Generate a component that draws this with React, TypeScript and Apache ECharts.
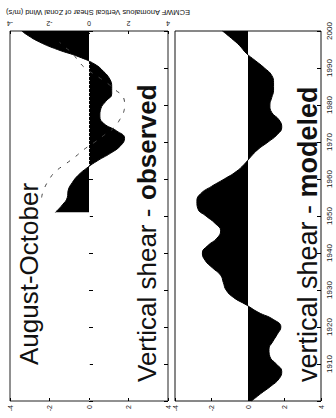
import React, { useEffect, useRef } from "react";
import * as echarts from "echarts";

// ---- data ----
const obsYears = [1951, 1953, 1955, 1957, 1959, 1961, 1963, 1965, 1967, 1969, 1971, 1973, 1975, 1977, 1979, 1981, 1983, 1985, 1987, 1989, 1991, 1993, 1995, 1997, 1999, 2000];
const obsValues = [-1.7, -1.35, -1.1, -1.05, -0.85, -0.55, -0.1, 0.45, 1.1, 1.6, 1.8, 1.4, 0.75, 0.55, 0.6, 0.85, 1.15, 1.15, 1.05, 0.75, 0.3, -0.5, -1.6, -2.5, -3.15, -3.4];

const obsDashYears = [1955, 1957, 1960, 1962, 1964, 1966, 1968, 1970, 1972, 1974, 1976, 1978, 1980, 1982, 1984, 1986, 1988, 1990, 1992, 1994, 1996, 1997];
const obsDashValues = [-2.4, -2.3, -2.0, -1.7, -1.2, -0.7, -0.25, 0.3, 0.8, 1.3, 1.55, 1.75, 1.8, 1.75, 1.35, 0.9, 0.35, -0.2, -0.55, -0.85, -1.3, -1.5];

const modYears = [1900, 1902, 1904, 1906, 1908, 1910, 1912, 1914, 1916, 1918, 1920, 1922, 1924, 1926, 1928, 1930, 1932, 1934, 1936, 1938, 1940, 1942, 1944, 1946, 1948, 1950, 1952, 1954, 1956, 1958, 1960, 1962, 1964, 1966, 1968, 1970, 1972, 1974, 1976, 1978, 1980, 1982, 1984, 1986, 1988, 1990, 1992, 1994, 1996, 1998, 2000];
const modValues = [0.2, 0.7, 1.25, 1.7, 1.85, 1.55, 1.2, 1.15, 1.35, 1.6, 1.8, 1.4, 0.55, -0.1, -0.8, -1.2, -1.35, -1.5, -1.95, -2.35, -2.5, -2.2, -1.7, -1.5, -1.8, -2.3, -2.75, -2.8, -2.6, -2.0, -1.3, -0.65, -0.2, 0.15, 0.55, 1.1, 1.6, 1.85, 1.7, 1.3, 1.2, 1.3, 1.4, 1.4, 1.3, 0.9, 0.4, -0.1, -0.45, -0.9, -1.4];

const yearTicks = [1910, 1920, 1930, 1940, 1950, 1960, 1970, 1980, 1990, 2000];
const valueTicks = [-4, -2, 0, 2, 4];

const titleText = "ECMWF Anomalous Vertical Shear of Zonal Wind (m/s)";
const seasonText = "August-October";
const obsLabelA = "Vertical shear - ";
const obsLabelB = "observed";
const modLabelA = "vertical shear - ";
const modLabelB = "modeled";

const YEAR_MS = 365.2425 * 864e5;
const toTime = (y: number) => (y - 1970) * YEAR_MS;

const FONT = "Liberation Sans, Arial, sans-serif";

export default function App() {
  const ref = useRef<HTMLDivElement>(null);
  useEffect(() => {
    if (!ref.current) return;
    const chart = echarts.init(ref.current, null, { renderer: "svg" });

    const G0 = { left: 10, top: 31, width: 158, height: 370 };
    const G1 = { left: 175, top: 31, width: 146, height: 370 };

    const valueAxisBase = {
      type: "value" as const,
      min: -4,
      max: 4,
      interval: 2,
      splitLine: { show: false },
      axisLine: { show: false },
      axisTick: { show: true, inside: true, length: 3, lineStyle: { color: "#000" } },
    };
    const yearAxisBase = {
      type: "value" as const,
      min: 1900,
      max: 2000,
      interval: 10,
      splitLine: { show: false },
      axisLine: { show: false },
      axisTick: { show: true, inside: true, length: 4, lineStyle: { color: "#000" } },
    };
    const timeAxisBase = {
      type: "time" as const,
      min: toTime(1900),
      max: toTime(2000),
      show: false,
      splitLine: { show: false },
    };
    const lbl = (v: number) => (valueTicks.includes(v) ? String(v) : "");

    const option: any = {
      animation: false,
      grid: [
        { ...G0, show: true, borderColor: "#222", borderWidth: 1, backgroundColor: "transparent" },
        { ...G1, show: true, borderColor: "#111", borderWidth: 1, backgroundColor: "transparent" },
      ],
      xAxis: [
        {
          ...valueAxisBase,
          gridIndex: 0,
          position: "top",
          axisLabel: { rotate: 180, fontSize: 7, color: "#222", margin: 4, fontFamily: FONT, formatter: lbl },
        },
        {
          ...valueAxisBase,
          gridIndex: 0,
          position: "bottom",
          axisLabel: { rotate: 90, fontSize: 7, color: "#222", margin: 4, fontFamily: FONT, formatter: lbl },
        },
        {
          ...valueAxisBase,
          gridIndex: 1,
          position: "bottom",
          axisLabel: { rotate: 90, fontSize: 7, color: "#222", margin: 4, fontFamily: FONT, formatter: lbl },
        },
      ],
      yAxis: [
        { ...timeAxisBase, gridIndex: 0 },
        { ...yearAxisBase, gridIndex: 0, position: "left", axisLabel: { show: false } },
        { ...yearAxisBase, gridIndex: 0, position: "right", axisLabel: { show: false } },
        { ...timeAxisBase, gridIndex: 1 },
        {
          ...yearAxisBase,
          gridIndex: 1,
          position: "right",
          axisLabel: {
            show: true,
            rotate: 90,
            fontSize: 8,
            color: "#111",
            margin: 4,
            fontFamily: FONT,
            formatter: (v: number) => (yearTicks.includes(v) ? String(v) : ""),
          },
        },
      ],
      series: [
        {
          type: "line",
          xAxisIndex: 0,
          yAxisIndex: 0,
          data: obsYears.map((y, i) => [obsValues[i], toTime(y)]),
          smooth: 0.5,
          showSymbol: false,
          lineStyle: { color: "#000", width: 1 },
          areaStyle: { color: "#000", opacity: 1 },
          markLine: {
            silent: true,
            symbol: "none",
            label: { show: false },
            lineStyle: { color: "#fff", type: [1, 3], width: 1, opacity: 0.8 },
            data: [{ xAxis: 0 }],
          },
          z: 2,
        },
        {
          type: "line",
          xAxisIndex: 0,
          yAxisIndex: 0,
          data: obsDashYears.map((y, i) => [obsDashValues[i], toTime(y)]),
          smooth: 0.5,
          showSymbol: false,
          lineStyle: { color: "#444", width: 1, type: [4, 7] },
          z: 3,
        },
        {
          type: "line",
          xAxisIndex: 2,
          yAxisIndex: 3,
          data: modYears.map((y, i) => [modValues[i], toTime(y)]),
          smooth: 0.5,
          showSymbol: false,
          lineStyle: { color: "#000", width: 1 },
          areaStyle: { color: "#000", opacity: 1 },
          z: 2,
        },
      ],
      graphic: [
        {
          type: "text",
          x: 98,
          y: 12,
          rotation: Math.PI,
          style: { text: titleText, fontSize: 7.5, fontFamily: FONT, fill: "#111", textAlign: "center", textVerticalAlign: "middle" },
        },
        {
          type: "text",
          x: 29,
          y: 365,
          rotation: Math.PI / 2,
          style: { text: seasonText, fontSize: 26, fontFamily: FONT, fill: "#111", textAlign: "left", textVerticalAlign: "middle" },
        },
        {
          type: "text",
          x: 147,
          y: 382,
          rotation: Math.PI / 2,
          style: { text: obsLabelA, fontSize: 26, fontFamily: FONT, fill: "#111", textAlign: "left", textVerticalAlign: "middle" },
        },
        {
          type: "text",
          x: 147,
          y: 382 - 7.0 * 26,
          rotation: Math.PI / 2,
          style: { text: obsLabelB, fontSize: 26, fontWeight: "bold", fontFamily: FONT, fill: "#111", textAlign: "left", textVerticalAlign: "middle" },
        },
        {
          type: "text",
          x: 307.5,
          y: 382,
          rotation: Math.PI / 2,
          style: { text: modLabelA, fontSize: 27, fontFamily: FONT, fill: "#111", textAlign: "left", textVerticalAlign: "middle" },
        },
        {
          type: "text",
          x: 307.5,
          y: 382 - 6.835 * 27,
          rotation: Math.PI / 2,
          style: { text: modLabelB, fontSize: 27, fontWeight: "bold", fontFamily: FONT, fill: "#111", textAlign: "left", textVerticalAlign: "middle" },
        },
      ],
    };
    chart.setOption(option);
    return () => chart.dispose();
  }, []);
  return <div ref={ref} style={{ position: "fixed", left: 0, top: 0, width: 336, height: 418, background: "#fff" }} />;
}
